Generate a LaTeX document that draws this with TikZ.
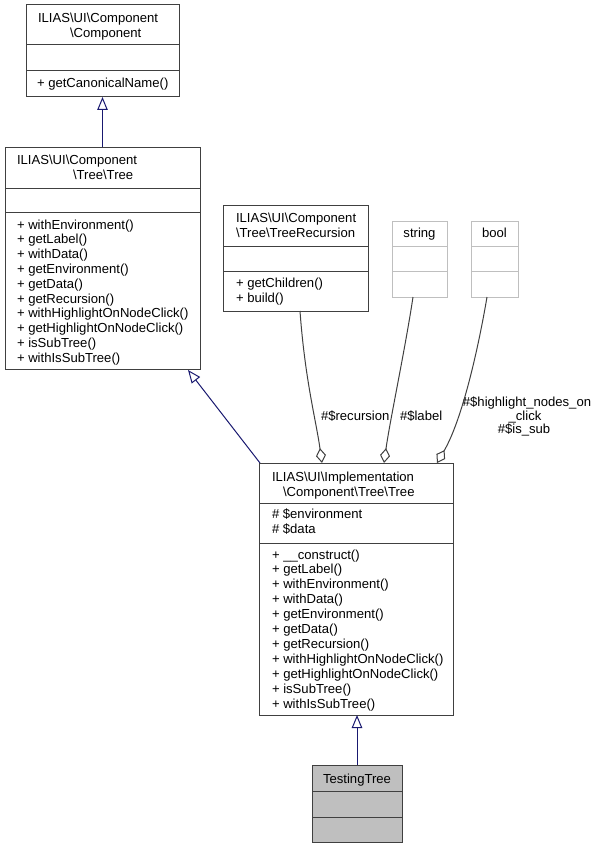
\documentclass[tikz,border=0pt]{standalone}
\usepackage{fontspec}
\setmainfont{Liberation Sans}
\usetikzlibrary{arrows.meta}
\definecolor{edgec}{HTML}{404040}
\definecolor{inhc}{HTML}{191970}
\definecolor{grayc}{HTML}{BFBFBF}
\newcommand\bs{\textbackslash}
\tikzset{
  box/.style={rectangle,inner sep=0pt,outer sep=0pt,line width=1pt},
  darkbox/.style={draw=edgec,fill=white},
  lightbox/.style={draw=grayc,fill=white},
  greybox/.style={draw=edgec,fill=grayc},
  txt/.style={inner sep=0pt,outer sep=0pt,font=\fontsize{13.1}{15}\selectfont},
  inh/.style={draw=inhc,line width=1pt,-{Triangle[open,length=13pt,width=10.5pt,fill=white]}},
  agg/.style={draw=edgec,line width=1pt,-{Diamond[open,length=15pt,width=10pt,fill=white]}},
}
% name x y w h sep1 sep2 style
\newcommand\umlbox[8]{%
  \node[box,#8,minimum width=#4pt,minimum height=#5pt,anchor=north west] (#1) at (#2,#3) {};
  \draw[box,#8,fill=none] ([yshift=-#6pt]#1.north west) -- ([yshift=-#6pt]#1.north east);
  \draw[box,#8,fill=none] ([yshift=-#7pt]#1.north west) -- ([yshift=-#7pt]#1.north east);
}
% prefix x y0 step list
\newcommand\txtlines[5]{%
  \foreach \t [count=\i from 0] in {#5} \node[txt,anchor=base west] (#1-\i) at (#2,#3+\i*#4) {\t};
}
\begin{document}
\begin{tikzpicture}[x=1pt,y=-1pt]
\useasboundingbox (0,0) rectangle (596,848);
% boxes
\umlbox{comp}{26}{5}{153}{92}{40}{66}{darkbox}
\umlbox{tree}{5}{147}{195}{222}{41}{65}{darkbox}
\umlbox{rec}{223}{205}{145}{106}{41}{66}{darkbox}
\umlbox{str}{392}{221}{55}{76}{25}{50}{lightbox}
\umlbox{bool}{471}{221}{47}{76}{25}{50}{lightbox}
\umlbox{impl}{259}{463}{194}{252}{40}{80}{darkbox}
\umlbox{test}{312}{765}{90}{77}{26}{52}{greybox}
% texts
\node[txt,anchor=base west] (compt1) at (38,23) {ILIAS\bs UI\bs Component};
\node[txt,anchor=base west] (compt2) at (70,38) {\bs Component};
\txtlines{compm}{37}{88}{15}{{+ getCanonicalName()}}

\node[txt,anchor=base west] (treet1) at (17,164) {ILIAS\bs UI\bs Component};
\node[txt,anchor=base west] (treet2) at (73,179) {\bs Tree\bs Tree};
\txtlines{treem}{17}{229}{14.8}{{+ withEnvironment()},{+ getLabel()},{+ withData()},{+ getEnvironment()},{+ getData()},{+ getRecursion()},{+ withHighlightOnNodeClick()},{+ getHighlightOnNodeClick()},{+ isSubTree()},{+ withIsSubTree()}}

\node[txt,anchor=base west] (rect1) at (236,222) {ILIAS\bs UI\bs Component};
\node[txt,anchor=base west] (rect2) at (236,237) {\bs Tree\bs TreeRecursion};
\txtlines{recm}{236}{287}{15}{{+ getChildren()},{+ build()}}

\node[txt,anchor=base] (strt) at (419.5,237) {string};
\node[txt,anchor=base] (boolt) at (494.5,237) {bool};

\node[txt,anchor=base west] (implt1) at (272,481) {ILIAS\bs UI\bs Implementation};
\node[txt,anchor=base west] (implt2) at (283,496) {\bs Component\bs Tree\bs Tree};
\txtlines{impla}{272}{518}{15}{{\# \$environment},{\# \$data}}
\txtlines{implm}{272}{559}{14.9}{{+ \_\_construct()},{+ getLabel()},{+ withEnvironment()},{+ withData()},{+ getEnvironment()},{+ getData()},{+ getRecursion()},{+ withHighlightOnNodeClick()},{+ getHighlightOnNodeClick()},{+ isSubTree()},{+ withIsSubTree()}}

\node[txt,anchor=base] (testt) at (357,783) {TestingTree};

% inheritance
\draw[inh] (tree.north) -- (comp.south);
\draw[inh] ([xshift=1pt]impl.north west) -- ([xshift=-12pt,yshift=-1pt]tree.south east);
\draw[inh] (test.north) -- (test.north |- impl.south);

% aggregation
\draw[agg] ([xshift=4.5pt]rec.south) .. controls (305,380) and (316,420) .. ([xshift=-34pt]impl.north);
\draw[agg] ([xshift=-6.5pt]str.south) .. controls (405,350) and (390,420) .. ([xshift=28pt]impl.north);
\draw[agg] ([xshift=-7.5pt]bool.south) .. controls (478,350) and (462,420) .. ([xshift=81pt]impl.north);

% labels
\node[txt,anchor=base west] (lrec) at (321,420) {\#\$recursion};
\node[txt,anchor=base west] (lstr) at (400,420) {\#\$label};
\node[txt,anchor=base] (lb1) at (527,406) {\#\$highlight\_nodes\_on};
\node[txt,anchor=base] (lb2) at (525,420) {\_click};
\node[txt,anchor=base] (lb3) at (524,433) {\#\$is\_sub};
\end{tikzpicture}
\end{document}
